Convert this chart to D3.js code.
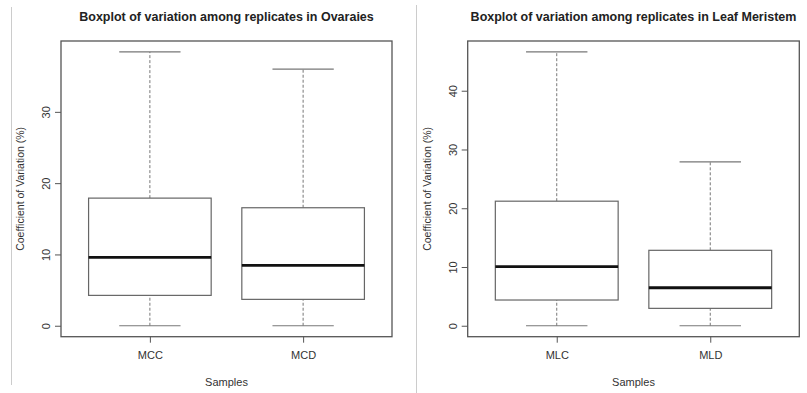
<!DOCTYPE html>
<html><head><meta charset="utf-8">
<script src="https://cdn.jsdelivr.net/npm/d3@7"></script>
<style>body{margin:0;background:#fff}svg{display:block}text{font-family:"Liberation Sans",Arial,sans-serif}</style>
</head><body>
<svg id="c" width="807" height="393"></svg>
<script>
const titles = ["Boxplot of variation among replicates in Ovaraies", "Boxplot of variation among replicates in Leaf Meristem"];
const catsOv = ["MCC", "MCD"];
const minOv = [0, 0];
const q1Ov = [4.26, 3.7];
const medOv = [9.6, 8.47];
const q3Ov = [17.9, 16.55];
const maxOv = [38.4, 36.0];
const ticksOv = [0, 10, 20, 30];
const catsLf = ["MLC", "MLD"];
const minLf = [0, 0];
const q1Lf = [4.38, 2.96];
const medLf = [10.05, 6.47];
const q3Lf = [21.2, 12.84];
const maxLf = [46.6, 27.9];
const ticksLf = [0, 10, 20, 30, 40];
const yLabel = "Coefficient of Variation (%)";
const xLabel = "Samples";

const svg = d3.select("#c");
const axisCol = "#555";

// separator lines
svg.append("line").attr("x1",11.5).attr("x2",11.5).attr("y1",7).attr("y2",385).attr("stroke","#ccc").attr("stroke-width",1);
svg.append("line").attr("x1",416.5).attr("x2",416.5).attr("y1",5).attr("y2",393).attr("stroke","#ccc").attr("stroke-width",1);

function panel(x0, x1, title, cats, mins, q1s, meds, q3s, maxs, ticks) {
  const top = 41, bottom = 336.7;
  const ymax = d3.max(maxs), ymin = 0;
  const ext = (ymax - ymin) * 0.04;
  const y = d3.scaleLinear().domain([ymin - ext, ymax + ext]).range([bottom, top]);
  const x = d3.scaleLinear().domain([0.42, cats.length + 0.58]).range([x0, x1]);
  const g = svg.append("g");
  const cx = (x0 + x1) / 2;
  g.append("text").attr("x", cx).attr("y", 21).attr("text-anchor","middle")
    .attr("font-size", 12.5).attr("font-weight","bold").attr("fill","#222").text(title);
  // boxes
  cats.forEach((c, i) => {
    const xc = x(i + 1), bw = x(1.4) - x(1), cw = x(1.2) - x(1);
    g.append("line").attr("x1", xc).attr("x2", xc).attr("y1", y(q3s[i])).attr("y2", y(maxs[i]))
      .attr("stroke","#777").attr("stroke-width",1).attr("stroke-dasharray","3,2");
    g.append("line").attr("x1", xc).attr("x2", xc).attr("y1", y(mins[i])).attr("y2", y(q1s[i]))
      .attr("stroke","#777").attr("stroke-width",1).attr("stroke-dasharray","3,2");
    g.append("line").attr("x1", xc - cw).attr("x2", xc + cw).attr("y1", y(maxs[i])).attr("y2", y(maxs[i]))
      .attr("stroke","#777").attr("stroke-width",1.2);
    g.append("line").attr("x1", xc - cw).attr("x2", xc + cw).attr("y1", y(mins[i])).attr("y2", y(mins[i]))
      .attr("stroke","#777").attr("stroke-width",1.2);
    g.append("rect").attr("x", xc - bw).attr("width", 2 * bw).attr("y", y(q3s[i])).attr("height", y(q1s[i]) - y(q3s[i]))
      .attr("fill","#fff").attr("stroke","#666").attr("stroke-width",1.2);
    g.append("line").attr("x1", xc - bw).attr("x2", xc + bw).attr("y1", y(meds[i])).attr("y2", y(meds[i]))
      .attr("stroke","#111").attr("stroke-width",2.8);
  });
  // frame
  g.append("rect").attr("x", x0).attr("y", top).attr("width", x1 - x0).attr("height", bottom - top)
    .attr("fill","none").attr("stroke", axisCol).attr("stroke-width",1.3);
  // y axis
  const ya = g.append("g").attr("transform", `translate(${x0},0)`)
    .call(d3.axisLeft(y).tickValues(ticks).tickSize(6).tickPadding(4).tickFormat(d3.format("d")));
  ya.select(".domain").remove();
  ya.selectAll("line").attr("stroke", axisCol);
  ya.selectAll("text").attr("font-size", 11).attr("fill","#333").attr("font-family","Liberation Sans, Arial, sans-serif")
    .attr("text-anchor","middle").attr("transform", d => `rotate(-90,${-14},${y(d)})`).attr("x",-14).attr("dy","0.35em").attr("y", y0 => y(y0)).attr("transform", d => `rotate(-90,-14,0)`);
  ya.selectAll(".tick text").each(function(d){
    d3.select(this).attr("x", null).attr("y", null).attr("dy", null)
      .attr("transform", `translate(-11,0) rotate(-90)`).attr("text-anchor","middle");
  });
  // x axis
  const xa = g.append("g").attr("transform", `translate(0,${bottom})`)
    .call(d3.axisBottom(x).tickValues(d3.range(1, cats.length + 1)).tickSize(6).tickPadding(9).tickFormat((d) => cats[d - 1]));
  xa.select(".domain").remove();
  xa.selectAll("line").attr("stroke", axisCol);
  xa.selectAll("text").attr("font-size", 11).attr("fill","#333").attr("font-family","Liberation Sans, Arial, sans-serif");
  g.append("text").attr("x", cx).attr("y", 385.5).attr("text-anchor","middle").attr("font-size", 11).attr("fill","#333").text(xLabel);
  g.append("text").attr("transform", `translate(${x0 - 37},${(top + bottom) / 2}) rotate(-90)`).attr("text-anchor","middle")
    .attr("font-size", 10.5).attr("fill","#333").text(yLabel);
}

panel(61, 392, titles[0], catsOv, minOv, q1Ov, medOv, q3Ov, maxOv, ticksOv);
panel(467.7, 799.3, titles[1], catsLf, minLf, q1Lf, medLf, q3Lf, maxLf, ticksLf);
</script>
</body></html>
